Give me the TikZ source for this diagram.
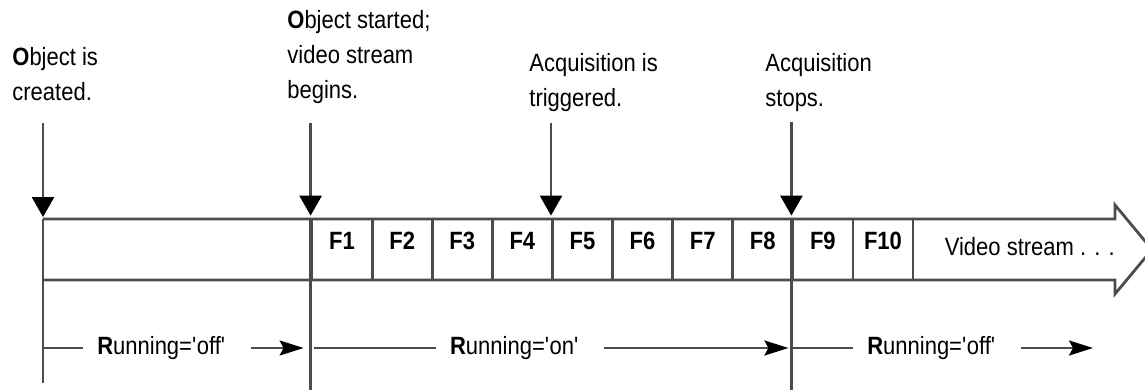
\documentclass[tikz,border=0pt]{standalone}
\usepackage{fontspec}
\setmainfont[FakeStretch=0.88]{Liberation Sans}
\usetikzlibrary{arrows.meta,positioning}

\newcommand\diagfont{\fontsize{12.5}{17.5}\selectfont}

\tikzset{
  tline/.style={draw=black!70, line width=1.4pt},
  event/.style={tline, -{Triangle[width=11pt,length=10pt,color=black]}, shorten >=1pt},
  frame/.style={tline, rectangle, minimum width=30.05pt, minimum height=30.5pt,
    inner sep=0pt, text height=8pt, text depth=8pt, font=\diagfont\bfseries},
  note/.style={anchor=north west, align=left, inner sep=0pt},
  run/.style={inner xsep=7pt, inner ysep=0pt},
  runline/.style={draw=black!70, line width=1.2pt},
  runarrow/.style={runline, -{Stealth[length=12pt,width=7.5pt,inset=2pt,color=black]}, shorten <=5.5pt},
}

\begin{document}
\begin{tikzpicture}[x=0.5pt, y=-0.5pt, font=\diagfont]
  \useasboundingbox (0,0) rectangle (1145,390);

  % the stream band with its open head
  \draw[tline] (43,219) -- (1115,219) -- (1115,205) -- (1152,249.5)
    -- (1115,294) -- (1115,280) -- (43,280);

  % frames
  \foreach \i in {1,...,10}
    \node[frame] (f\i) at ({312+60.1*(\i-0.5)},249.5) {F\i};
  \node[anchor=base west, inner sep=0pt] (tail) at ([xshift=15pt,yshift=-2.75pt]f10.east) {Video stream . . .};

  % event points on the band
  \coordinate (e0) at (43,219);
  \coordinate (e1) at (f1.north west);
  \coordinate (e2) at (f5.north west);
  \coordinate (e3) at (f9.north west);

  % event notes
  \node[note] (created) at (12,47) {\textbf{O}bject is\\created.};
  \node[note] (started) at (287,10) {\textbf{O}bject started;\\video stream\\begins.};
  \node[note] (triggered) at (529,53) {Acquisition is\\triggered.};
  \node[note] (stopped) at (765,53) {Acquisition\\stops.};

  \draw[event] ([yshift=48pt]e0) -- (e0);
  \draw[event] ([yshift=47.5pt]e1) -- (e1);
  \draw[event] ([yshift=47.5pt]e2) -- (e2);
  \draw[event] ([yshift=48pt]e3) -- (e3);

  % markers below the band
  \draw[tline] (e0) -- ++(0,164);
  \draw[tline] (e1) -- ++(0,175);
  \draw[tline] (e3) -- ++(0,175);

  % running state
  \node[run] (run1) at (161.5,348) {\textbf{R}unning=\textquotesingle off\textquotesingle};
  \node[run] (run2) at (514.5,348) {\textbf{R}unning=\textquotesingle on\textquotesingle};
  \node[run] (run3) at (931.5,348) {\textbf{R}unning=\textquotesingle off\textquotesingle};
  \coordinate (runend) at (1093,348);

  \draw[runline] (e0 |- run1) -- (run1.west);
  \draw[runarrow] (run1.east) -- ([xshift=-3.5pt]e1 |- run1);
  \draw[runline] ([xshift=1.5pt]e1 |- run2) -- (run2.west);
  \draw[runarrow] (run2.east) -- ([xshift=-1.5pt]e3 |- run2);
  \draw[runline] (e3 |- run3) -- (run3.west);
  \draw[runarrow] (run3.east) -- (runend);
\end{tikzpicture}
\end{document}
